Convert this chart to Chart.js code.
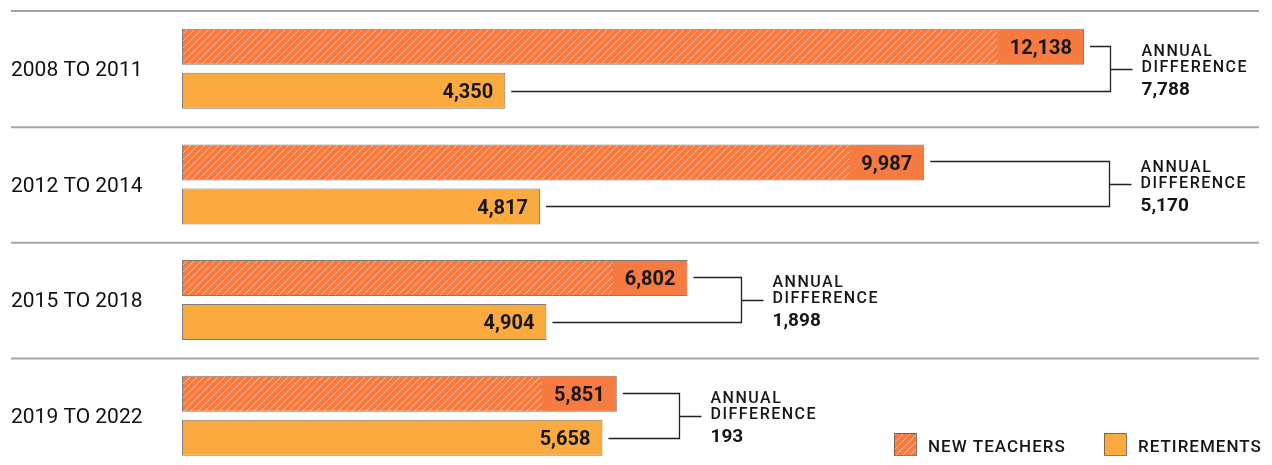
<!DOCTYPE html>
<html>
<head>
<meta charset="utf-8">
<script src="https://cdn.jsdelivr.net/npm/chart.js@4.4.1/dist/chart.umd.min.js"></script>
<style>
  html, body { margin: 0; padding: 0; background: #fff; overflow: hidden; }
  canvas { display: block; }
</style>
</head>
<body>
<canvas id="chart" width="1272" height="474"></canvas>
<script>
// periods and yearly counts
const periods = ["2008 TO 2011", "2012 TO 2014", "2015 TO 2018", "2019 TO 2022"];
const newTeachers = [12138, 9987, 6802, 5851];
const retirements = [4350, 4817, 4904, 5658];

const ORANGE = "#F57B41";
const YELLOW = "#FAAA3F";
const BORDER = "rgba(90,80,70,0.75)";
const FONT = "Roboto, 'Noto Sans', sans-serif";

// diagonal hatch for the new teachers bars
function hatch() {
  const s = 7;
  const c = document.createElement("canvas");
  c.width = s; c.height = s;
  const g = c.getContext("2d");
  g.fillStyle = ORANGE;
  g.fillRect(0, 0, s, s);
  g.strokeStyle = "rgba(255,235,225,0.55)";
  g.lineWidth = 1;
  g.beginPath();
  g.moveTo(0, s); g.lineTo(s, 0);
  g.moveTo(-1, 1); g.lineTo(1, -1);
  g.moveTo(s - 1, s + 1); g.lineTo(s + 1, s - 1);
  g.stroke();
  return g.createPattern(c, "repeat");
}
const hatchFill = hatch();

const fmt = v => v.toLocaleString("en-US");

function capText(ctx, text, x, yMid, size, weight, align, spacing) {
  ctx.font = `${weight} ${size}px ${FONT}`;
  ctx.letterSpacing = (spacing || 0) + "px";
  ctx.textAlign = align;
  ctx.textBaseline = "alphabetic";
  ctx.fillText(text, x, yMid + size * 0.355);
  ctx.letterSpacing = "0px";
}

// separators, value labels, difference brackets and legend
const decorations = {
  id: "decorations",
  beforeDatasetsDraw(chart) {
    const { ctx, scales } = chart;
    const y = scales.y;
    const half = (y.getPixelForValue(1) - y.getPixelForValue(0)) / 2;
    ctx.save();
    periods.forEach((p, i) => {
      const yy = y.getPixelForValue(i) - half;
      ctx.beginPath();
      if (i === 0) {
        ctx.strokeStyle = "#4a4a4a";
        ctx.lineWidth = 1.2;
        ctx.moveTo(11, yy); ctx.lineTo(1259, yy);
      } else {
        ctx.strokeStyle = "#a6a6a6";
        ctx.lineWidth = 2;
        ctx.moveTo(11, yy + 0.5); ctx.lineTo(1259, yy + 0.5);
      }
      ctx.stroke();
    });
    ctx.restore();
  },
  afterDatasetsDraw(chart, args, opts) {
    const { ctx } = chart;
    const m0 = chart.getDatasetMeta(0).data;
    const m1 = chart.getDatasetMeta(1).data;
    ctx.save();

    // value labels at the bar ends; the hatch gives way to a solid block
    [m0, m1].forEach((bars, d) => {
      const vals = chart.data.datasets[d].data;
      bars.forEach((bar, i) => {
        const txt = fmt(vals[i]);
        ctx.font = `bold 20px ${FONT}`;
        const w = ctx.measureText(txt).width;
        if (d === 0) {
          const x0 = bar.x - w - 24;
          ctx.fillStyle = ORANGE;
          ctx.fillRect(x0, bar.y - bar.height / 2 + 1, bar.x - x0 - 1, bar.height - 2);
        }
        ctx.fillStyle = "#161616";
        capText(ctx, txt, bar.x - 12, bar.y, 20, "bold", "right");
      });
    });

    // brackets with the annual difference
    ctx.strokeStyle = "#222";
    ctx.lineWidth = 1.3;
    ctx.fillStyle = "#161616";
    m0.forEach((top, i) => {
      const bot = m1[i];
      const bx = Math.round(Math.max(top.x, bot.x) + opts.bracketOffset[i]) + 0.5;
      const yt = Math.round(top.y) - 0.5, yb = Math.round(bot.y) + 0.5;
      const ym = Math.round((yt + yb) / 2) + 0.5;
      ctx.beginPath();
      ctx.moveTo(top.x + 6, yt); ctx.lineTo(bx, yt);
      ctx.lineTo(bx, yb); ctx.lineTo(bot.x + 6, yb);
      ctx.moveTo(bx, ym); ctx.lineTo(bx + 22, ym);
      ctx.stroke();
      const tx = bx + 31;
      const cy = (top.y + bot.y) / 2;
      capText(ctx, "ANNUAL", tx, cy - 18.5, 16, 500, "left", 1.5);
      capText(ctx, "DIFFERENCE", tx, cy - 2.5, 16, 500, "left", 1.5);
      capText(ctx, fmt(newTeachers[i] - retirements[i]), tx, cy + 19.5, 19, "bold", "left");
    });

    // legend
    const items = [
      { x: 894, fill: chart.data.datasets[0].backgroundColor, label: chart.data.datasets[0].label },
      { x: 1104, fill: chart.data.datasets[1].backgroundColor, label: chart.data.datasets[1].label }
    ];
    items.forEach(it => {
      ctx.fillStyle = it.fill;
      ctx.fillRect(it.x, 433, 22, 22);
      ctx.strokeStyle = BORDER;
      ctx.lineWidth = 1;
      ctx.strokeRect(it.x + 0.5, 433.5, 22, 22);
      ctx.fillStyle = "#161616";
      capText(ctx, it.label, it.x + 34, 446, 17, 500, "left", 1);
    });
    ctx.restore();
  }
};

new Chart(document.getElementById("chart"), {
  type: "bar",
  data: {
    labels: periods,
    datasets: [
      { label: "NEW TEACHERS", data: newTeachers, backgroundColor: hatchFill,
        borderColor: BORDER, borderWidth: 1, borderSkipped: false },
      { label: "RETIREMENTS", data: retirements, backgroundColor: YELLOW,
        borderColor: BORDER, borderWidth: 1, borderSkipped: false }
    ]
  },
  options: {
    indexAxis: "y",
    responsive: false,
    animation: false,
    barPercentage: 0.818,
    categoryPercentage: 0.762,
    layout: { padding: { left: 11, right: 49.6, top: 11, bottom: 0.5 } },
    scales: {
      x: { display: false, min: 0, max: 14000 },
      y: {
        grid: { display: false },
        border: { display: false },
        afterFit: s => {
          s.width = 171;
          s.paddingTop = 0;
          s.paddingBottom = 0;
        },
        ticks: {
          crossAlign: "far",
          color: "#111",
          padding: 0,
          labelOffset: 2,
          font: { family: FONT, size: 21, weight: 400 }
        }
      }
    },
    plugins: {
      legend: { display: false },
      tooltip: { enabled: false },
      decorations: { bracketOffset: [26, 185, 54, 62] }
    }
  },
  plugins: [decorations]
});
</script>
</body>
</html>
